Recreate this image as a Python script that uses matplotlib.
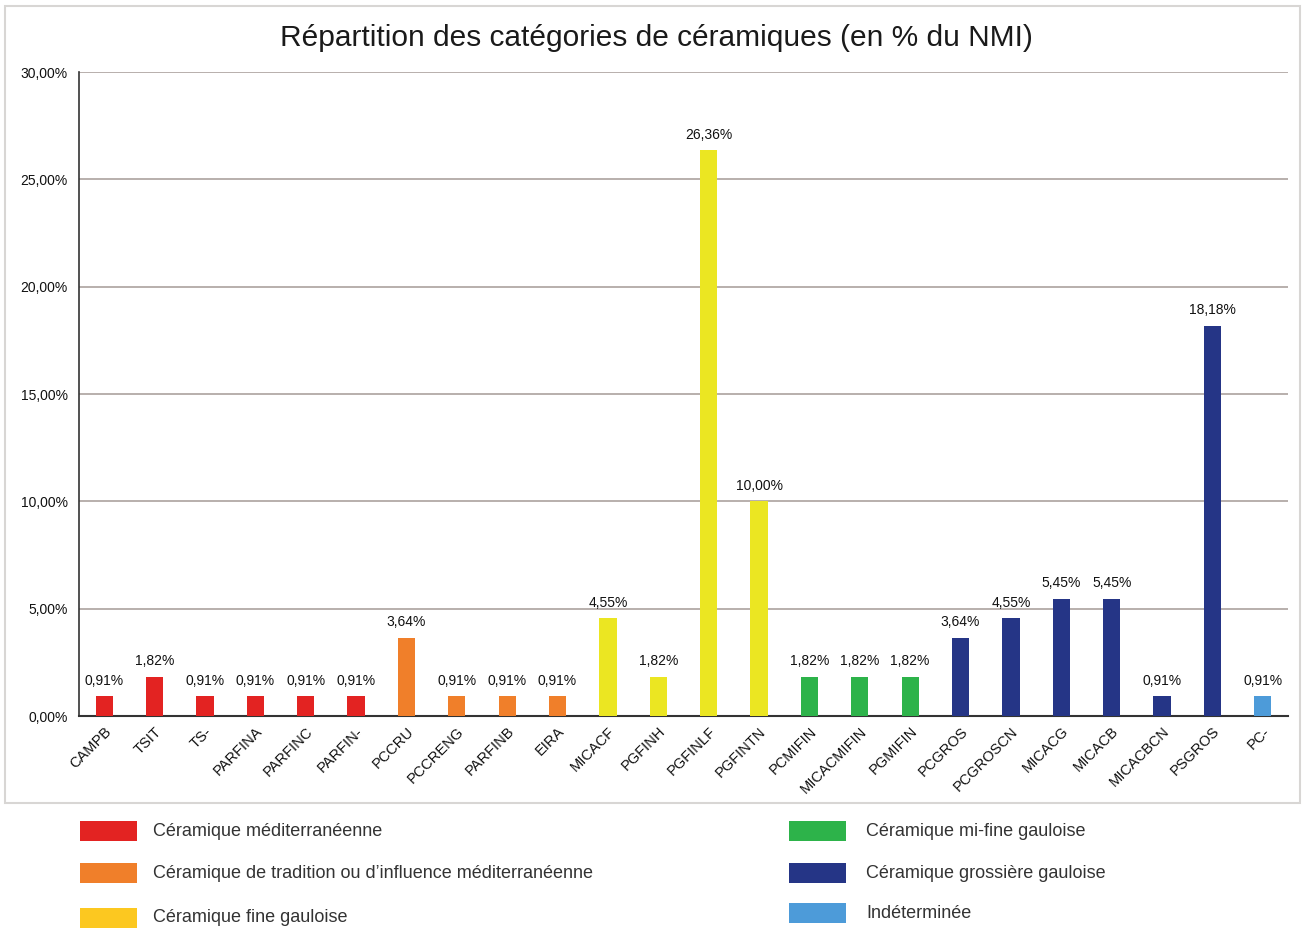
import matplotlib.pyplot as plt
from matplotlib.patches import Rectangle
from matplotlib.ticker import FuncFormatter

plt.rcParams['font.family'] = ['Liberation Sans', 'DejaVu Sans']

# Catégories de céramiques et pourcentages du NMI
categories = ['CAMPB', 'TSIT', 'TS-', 'PARFINA', 'PARFINC', 'PARFIN-', 'PCCRU',
              'PCCRENG', 'PARFINB', 'EIRA', 'MICACF', 'PGFINH', 'PGFINLF', 'PGFINTN',
              'PCMIFIN', 'MICACMIFIN', 'PGMIFIN', 'PCGROS', 'PCGROSCN', 'MICACG',
              'MICACB', 'MICACBCN', 'PSGROS', 'PC-']
values = [0.91, 1.82, 0.91, 0.91, 0.91, 0.91, 3.64,
          0.91, 0.91, 0.91, 4.55, 1.82, 26.36, 10.00,
          1.82, 1.82, 1.82, 3.64, 4.55, 5.45,
          5.45, 0.91, 18.18, 0.91]
groups = ['med'] * 6 + ['trad'] * 4 + ['fine'] * 4 + ['mifine'] * 3 + ['gros'] * 6 + ['indet']

group_labels = {
    'med': 'Céramique méditerranéenne',
    'trad': 'Céramique de tradition ou d’influence méditerranéenne',
    'fine': 'Céramique fine gauloise',
    'mifine': 'Céramique mi-fine gauloise',
    'gros': 'Céramique grossière gauloise',
    'indet': 'Indéterminée',
}
bar_colors = {'med': '#e32322', 'trad': '#f07f2a', 'fine': '#ebe622',
              'mifine': '#2db34a', 'gros': '#253586', 'indet': '#4d9bd9'}
legend_colors = dict(bar_colors, fine='#fcc820')

W, H = 1308, 931
fig = plt.figure(figsize=(W / 100, H / 100), dpi=100)

# cadre gris autour du graphique
fig.patches.append(Rectangle((5 / W, 1 - 803 / H), 1295 / W, 797 / H,
                             transform=fig.transFigure, fill=False,
                             edgecolor='#d8d6d4', linewidth=1.5))

ax = fig.add_axes([79 / W, 1 - 716 / H, (1288 - 79) / W, (716 - 72) / H])
x = range(len(categories))
ax.bar(x, values, width=0.34, color=[bar_colors[g] for g in groups], zorder=3)
for xi, v in zip(x, values):
    ax.text(xi, v + 0.4, f'{v:.2f}%'.replace('.', ','), ha='center', va='bottom',
            fontsize=10, color='#111111', fontweight='medium')

ax.set_xlim(-0.5, len(categories) - 0.5)
ax.set_ylim(0, 30)
ax.set_yticks(range(0, 31, 5))
ax.yaxis.set_major_formatter(FuncFormatter(lambda v, p: f'{v:.2f}%'.replace('.', ',')))
ax.grid(axis='y', color='#aca29e', linewidth=1.2, zorder=0)
ax.set_xticks(list(x))
ax.set_xticklabels(categories, rotation=45, ha='right', rotation_mode='anchor',
                   fontsize=10.5, color='#111111')
ax.tick_params(axis='x', length=0, pad=6)
ax.tick_params(axis='y', length=0, pad=8, labelsize=10, labelcolor='#111111')
for s in ['top', 'right']:
    ax.spines[s].set_visible(False)
ax.spines['left'].set_color('#333333')
ax.spines['bottom'].set_color('#333333')
ax.spines['left'].set_linewidth(1.2)
ax.spines['bottom'].set_linewidth(1.5)

fig.text(656 / W, 1 - 38 / H, 'Répartition des catégories de céramiques (en % du NMI)',
         ha='center', va='center', fontsize=21.5, color='#1a1a1a')

# légende manuelle en deux colonnes
legend_rows = [('med', 80, 153, 831), ('trad', 80, 153, 873), ('fine', 80, 153, 918),
               ('mifine', 789, 866, 831), ('gros', 789, 866, 873), ('indet', 789, 866, 913)]
for key, px, tx, ty in legend_rows:
    fig.patches.append(Rectangle((px / W, 1 - (ty + 10) / H), 57 / W, 20 / H,
                                 transform=fig.transFigure,
                                 facecolor=legend_colors[key], edgecolor='none'))
    fig.text(tx / W, 1 - ty / H, group_labels[key], ha='left', va='center',
             fontsize=13, color='#333333')

fig.savefig('out.png', dpi=100)
